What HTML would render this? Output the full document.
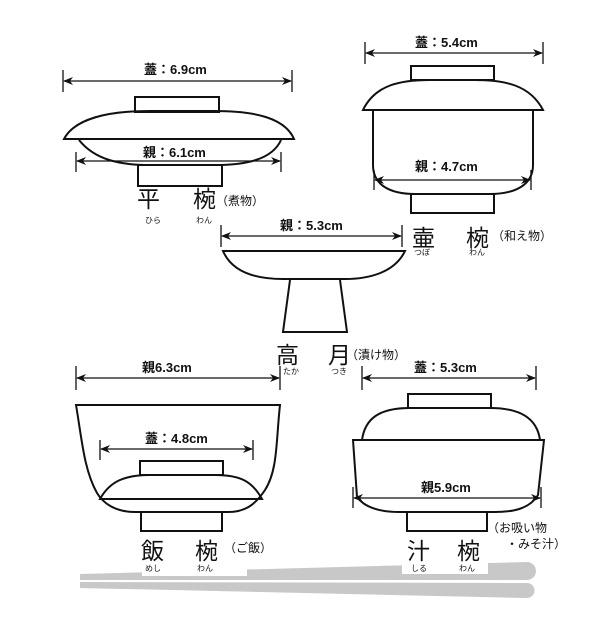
<!DOCTYPE html>
<html><head><meta charset="utf-8"><style>
body{margin:0;background:#fff}
svg text{font-family:"Liberation Sans","Noto Sans CJK JP",sans-serif;fill:#111}
.b{font-weight:bold;font-size:13px}
.k{font-size:23px}
.r{font-size:8px}
.p{font-size:12px}
</style></head><body>
<svg width="616" height="616" viewBox="0 0 616 616" xmlns="http://www.w3.org/2000/svg">
<defs><marker id="a" markerWidth="10" markerHeight="8" refX="9" refY="4" orient="auto-start-reverse" markerUnits="userSpaceOnUse"><path d="M0,0 L10,4 L0,8 L3,4z" fill="#111"/></marker></defs>
<path d="M80,574 L527,562 A9,9 0 0 1 527,580 L80,580z" fill="#c8c8c8"/>
<path d="M80,582 L527,583 A7.5,7.5 0 0 1 527,598 L80,588z" fill="#c8c8c8"/>
<rect x="142" y="562" width="105" height="14" fill="#fff"/>
<rect x="402" y="560" width="86" height="14" fill="#fff"/>
<g fill="none" stroke="#111" stroke-width="2">
<rect x="135" y="97" width="84" height="15"/>
<path d="M64,139 C75,118 110,111 150,111 L215,111 C255,111 285,118 294,139 Z"/>
<path d="M79,140 C95,160 120,165 150,165 L215,165 C245,165 272,160 281,140"/>
<rect x="138" y="165" width="84" height="21"/>
<rect x="411" y="66" width="83" height="14"/>
<path d="M363,110 C375,85 400,80 430,80 L475,80 C505,80 530,85 543,110 Z"/>
<path d="M373,110 L373,165 C373,185 390,194 415,194 L490,194 C515,194 533,185 533,165 L533,110"/>
<rect x="411" y="194" width="83" height="19"/>
<path d="M223,251 L405,251 C395,272 370,279 345,279 L283,279 C255,279 232,272 223,251 Z"/>
<path d="M290,280 L283,332 L347,332 L340,280"/>
<path d="M76,405 L280,405 C276,440 278,470 265,490 C255,505 245,512 228,512 L135,512 C115,512 103,503 97,493 C84,470 82,440 76,405 Z"/>
<rect x="140" y="461" width="83" height="14"/>
<path d="M100,499 C110,481 125,475 150,475 L215,475 C240,475 252,481 262,499 Z"/>
<rect x="141" y="512" width="81" height="19"/>
<rect x="408" y="394" width="83" height="14"/>
<path d="M362,440 C365,418 380,408 410,408 L490,408 C520,408 537,418 540,440"/>
<path d="M353,440 L544,440 L538,495 C530,508 515,512 495,512 L400,512 C380,512 365,508 357,497 Z"/>
<rect x="407" y="512" width="80" height="19"/>
</g>
<g stroke="#111" stroke-width="1.3" fill="none">
<path d="M63,70 V92 M292,70 V92 M76,152 V172 M281,152 V172 M365,42 V64 M543,42 V64 M374,170 V190 M531,170 V190 M221,225 V247 M402,225 V247 M76,366 V390 M280,366 V390 M100,440 V460 M253,440 V460 M362,366 V390 M536,366 V390 M353,487 V508 M541,487 V508"/>
<g marker-start="url(#a)" marker-end="url(#a)">
<line x1="64" y1="81" x2="291" y2="81"/>
<line x1="77" y1="161" x2="280" y2="161"/>
<line x1="366" y1="53" x2="542" y2="53"/>
<line x1="375" y1="180" x2="530" y2="180"/>
<line x1="222" y1="236" x2="401" y2="236"/>
<line x1="77" y1="378" x2="279" y2="378"/>
<line x1="101" y1="449" x2="252" y2="449"/>
<line x1="363" y1="378" x2="535" y2="378"/>
<line x1="354" y1="498" x2="540" y2="498"/>
</g></g>
<g class="b">
<text x="144" y="74">蓋：6.9cm</text>
<text x="143" y="157">親：6.1cm</text>
<text x="415" y="47">蓋：5.4cm</text>
<text x="415" y="171">親：4.7cm</text>
<text x="280" y="230">親：5.3cm</text>
<text x="142" y="372">親6.3cm</text>
<text x="145" y="443">蓋：4.8cm</text>
<text x="414" y="372">蓋：5.3cm</text>
<text x="421" y="492">親5.9cm</text>
</g>
<g class="k">
<text x="137" y="207">平</text><text x="193" y="207">椀</text>
<text x="412" y="246">壷</text><text x="466" y="246">椀</text>
<text x="276" y="363">高</text><text x="328" y="363">月</text>
<text x="141" y="559">飯</text><text x="195" y="559">椀</text>
<text x="407" y="559">汁</text><text x="457" y="559">椀</text>
</g>
<g class="p">
<text x="216" y="205">（煮物）</text>
<text x="492" y="240">（和え物）</text>
<text x="346" y="359">（漬け物）</text>
<text x="224" y="552">（ご飯）</text>
<text x="487" y="532">（お吸い物</text>
<text x="506" y="548">・みそ汁）</text>
</g>
<g class="r">
<text x="145" y="223">ひら</text><text x="196" y="223">わん</text>
<text x="414" y="255">つぼ</text><text x="469" y="255">わん</text>
<text x="283" y="374">たか</text><text x="331" y="374">つき</text>
<text x="145" y="571">めし</text><text x="197" y="571">わん</text>
<text x="411" y="571">しる</text><text x="459" y="571">わん</text>
</g>
</svg>
</body></html>
